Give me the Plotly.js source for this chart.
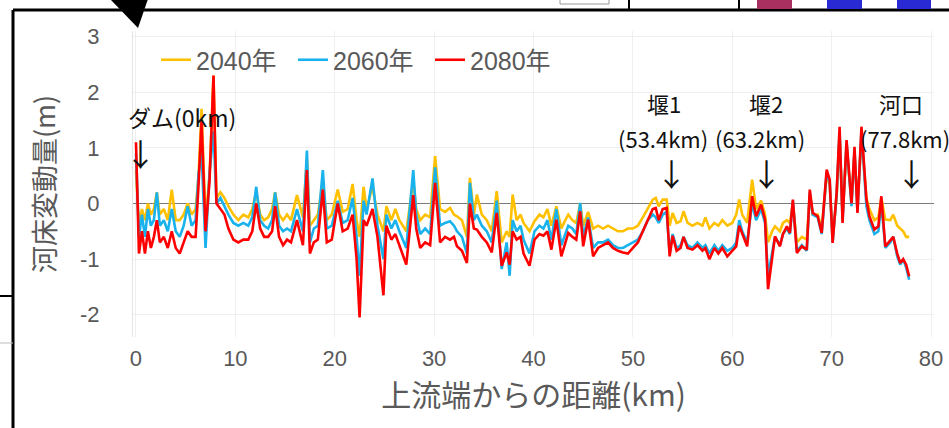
<!DOCTYPE html>
<html>
<head>
<meta charset="utf-8">
<script src="https://cdn.plot.ly/plotly-3.0.1.min.js"></script>
<style>html,body{margin:0;padding:0;background:#fff;}#chart{width:949px;height:428px;}</style>
</head>
<body>
<div id="chart"></div>
<script>
const seriesNames = ['2040年', '2060年', '2080年'];
const distanceKm = [0.0,0.3,0.6,0.9,1.2,1.5,1.8,2.1,2.4,2.8,3.2,3.6,4.0,4.4,4.8,5.2,5.6,6.0,6.3,6.6,7.0,7.4,7.8,8.1,8.5,8.9,9.3,9.8,10.3,10.8,11.3,11.7,12.1,12.5,12.9,13.3,13.7,14.0,14.4,14.8,15.2,15.6,16.2,16.8,17.2,17.5,17.9,18.3,18.8,19.2,19.7,20.3,20.8,21.3,21.8,22.2,22.5,22.9,23.2,23.8,24.3,24.9,25.2,25.7,26.1,26.5,27.2,27.9,28.2,28.6,29.1,29.6,30.1,30.6,31.1,31.6,32.0,32.3,32.8,33.3,33.6,34.0,34.3,34.8,35.3,35.8,36.3,36.8,37.3,37.6,37.9,38.3,38.7,39.0,39.6,40.1,40.6,41.0,41.4,41.8,42.3,42.8,43.2,43.5,43.9,44.3,44.7,45.0,45.5,46.0,46.5,47.0,47.5,48.0,48.5,49.0,49.5,50.0,50.5,51.0,51.5,52.0,52.3,52.6,53.0,53.4,53.7,54.0,54.4,54.8,55.1,55.5,56.0,56.5,57.0,57.3,57.7,58.2,58.6,59.0,59.5,60.0,60.4,60.7,61.0,61.5,62.0,62.4,62.9,63.3,63.6,64.0,64.3,64.8,65.1,65.5,65.8,66.1,66.5,67.0,67.5,67.8,68.1,68.6,69.0,69.5,69.8,70.1,70.5,70.8,71.1,71.5,72.0,72.3,72.6,73.0,73.5,73.8,74.3,74.7,75.0,75.4,75.9,76.2,76.6,76.9,77.2,77.5,77.8];
const y2040 = [0.6,-0.4,-0.1,-0.3,0.0,-0.2,-0.1,0.2,-0.2,-0.1,-0.3,0.25,-0.3,-0.3,-0.2,0.0,-0.2,-0.1,0.5,1.7,-0.3,0.5,2.3,0.1,0.2,0.1,-0.05,-0.2,-0.3,-0.2,-0.25,-0.1,0.2,-0.2,-0.3,-0.25,-0.1,0.2,-0.2,-0.3,-0.2,-0.3,0.15,-0.25,0.8,-0.4,-0.3,-0.2,0.4,-0.3,-0.2,0.25,-0.15,-0.1,0.35,-0.3,-0.6,0.3,-0.1,0.3,-0.2,-0.5,-0.05,-0.3,-0.1,-0.3,-0.5,0.4,-0.1,-0.3,-0.2,-0.25,0.85,-0.1,-0.15,-0.08,-0.2,-0.23,-0.3,-0.6,0.46,-0.2,0.16,-0.2,-0.3,-0.5,0.22,-0.7,-0.5,-0.6,0.16,-0.3,-0.2,-0.35,-0.5,-0.32,-0.2,-0.25,-0.1,-0.4,-0.05,-0.45,-0.3,-0.2,-0.3,-0.35,0.0,-0.4,-0.15,-0.45,-0.4,-0.45,-0.4,-0.45,-0.5,-0.5,-0.45,-0.45,-0.4,-0.25,-0.1,0.07,0.1,-0.05,0.07,0.07,-0.4,-0.17,-0.35,-0.32,-0.14,-0.35,-0.4,-0.35,-0.4,-0.25,-0.45,-0.35,-0.4,-0.3,-0.4,-0.35,-0.2,0.07,-0.2,-0.35,0.43,-0.1,0.05,-0.2,-0.7,-0.5,-0.41,-0.5,-0.35,-0.3,-0.35,0.0,-0.7,-0.6,-0.65,0.15,-0.2,-0.2,-0.45,0.5,0.35,-0.6,0.1,1.2,-0.2,1.0,0.05,0.9,-0.05,1.2,0.1,-0.1,-0.3,-0.25,0.1,-0.29,-0.3,-0.2,-0.4,-0.45,-0.5,-0.6,-0.6];
const y2060 = [0.9,-0.6,-0.2,-0.6,-0.1,-0.4,-0.3,0.2,-0.4,-0.3,-0.5,-0.1,-0.5,-0.6,-0.4,-0.05,-0.4,-0.3,0.55,0.9,-0.8,0.55,1.3,0.0,0.1,-0.05,-0.2,-0.35,-0.4,-0.35,-0.4,-0.25,0.3,-0.3,-0.4,-0.45,-0.3,0.2,-0.4,-0.5,-0.45,-0.5,-0.1,-0.5,0.95,-0.7,-0.45,-0.4,0.6,-0.45,-0.4,0.05,-0.35,-0.3,0.1,-0.6,-1.3,0.05,-0.2,0.45,-0.4,-1.0,-0.2,-0.45,-0.3,-0.5,-0.8,0.6,-0.2,-0.55,-0.45,-0.55,0.65,-0.4,-0.35,-0.32,-0.4,-0.5,-0.6,-0.9,0.37,-0.3,-0.2,-0.4,-0.5,-0.7,0.05,-1.18,-0.7,-1.3,-0.3,-0.5,-0.4,-0.65,-0.9,-0.5,-0.4,-0.45,-0.3,-0.65,-0.1,-0.75,-0.55,-0.4,-0.45,-0.55,0.01,-0.6,-0.25,-0.8,-0.7,-0.7,-0.65,-0.75,-0.8,-0.8,-0.75,-0.7,-0.65,-0.5,-0.3,-0.2,-0.25,-0.35,-0.2,-0.15,-0.9,-0.55,-0.8,-0.75,-0.6,-0.75,-0.8,-0.7,-0.8,-0.75,-0.9,-0.75,-0.85,-0.75,-0.85,-0.8,-0.7,-0.3,-0.5,-0.7,0.0,-0.3,-0.1,-0.35,-1.3,-0.9,-0.6,-0.75,-0.55,-0.45,-0.55,0.05,-0.85,-0.75,-0.85,0.2,-0.2,-0.25,-0.55,0.55,0.4,-0.7,0.15,1.3,-0.3,1.1,-0.05,0.95,-0.15,1.3,-0.05,-0.3,-0.55,-0.5,0.0,-0.8,-0.7,-0.6,-0.95,-1.1,-1.0,-1.15,-1.37];
const y2080 = [1.1,-0.9,-0.5,-0.9,-0.5,-0.8,-0.6,-0.3,-0.7,-0.6,-0.8,-0.5,-0.8,-0.9,-0.7,-0.5,-0.6,-0.6,0.35,1.5,-0.5,0.4,2.3,0.0,-0.1,-0.2,-0.45,-0.65,-0.7,-0.65,-0.65,-0.5,0.0,-0.45,-0.6,-0.6,-0.5,-0.05,-0.6,-0.75,-0.65,-0.7,-0.3,-0.75,0.6,-0.9,-0.7,-0.65,0.25,-0.7,-0.65,0.0,-0.5,-0.45,-0.2,-1.0,-2.05,-0.3,-0.4,-0.1,-0.6,-1.65,-0.4,-0.65,-0.55,-0.75,-1.1,0.15,-0.45,-0.8,-0.7,-0.75,0.37,-0.7,-0.6,-0.65,-0.6,-0.77,-0.85,-1.07,0.0,-0.45,-0.47,-0.6,-0.7,-0.88,-0.17,-1.12,-0.88,-1.1,-0.5,-0.65,-0.6,-0.9,-1.12,-0.65,-0.55,-0.58,-0.5,-0.83,-0.29,-0.95,-0.7,-0.53,-0.6,-0.65,-0.14,-0.77,-0.29,-0.95,-0.8,-0.75,-0.7,-0.8,-0.85,-0.88,-0.9,-0.8,-0.7,-0.5,-0.3,-0.1,-0.08,-0.3,-0.1,-0.08,-0.95,-0.58,-0.85,-0.8,-0.6,-0.8,-0.83,-0.75,-0.85,-0.8,-1.0,-0.8,-0.9,-0.8,-0.95,-0.85,-0.77,-0.4,-0.53,-0.77,0.13,-0.23,-0.02,-0.29,-1.54,-0.95,-0.59,-0.77,-0.55,-0.41,-0.53,0.07,-0.89,-0.77,-0.83,0.25,-0.17,-0.23,-0.53,0.61,0.43,-0.71,0.19,1.38,-0.35,1.14,0.0,1.02,-0.17,1.38,0.07,-0.23,-0.47,-0.41,0.13,-0.77,-0.65,-0.6,-0.9,-1.07,-1.0,-1.1,-1.31];
const xTickVals = [0,10,20,30,40,50,60,70,80];
const xTickText = ['0','10','20','30','40','50','60','70','80'];
const yTickVals = [-2,-1,0,1,2,3];
const yTickText = ['-2','-1','0','1','2','3'];
const markers = [
  {km: 0.0, name: 'ダム(0km)', label: ''},
  {km: 53.4, name: '堰1', label: '(53.4km)'},
  {km: 63.2, name: '堰2', label: '(63.2km)'},
  {km: 77.8, name: '河口', label: '(77.8km)'}
];
const colors = ['#FFC000', '#19B2EC', '#FF0000'];
const seriesValues = [y2040, y2060, y2080];

// pixel helpers for frame decorations (plot area: x 133..934, y 31..337)
const L = 133, R = 934, T = 31, B = 337;
const px = x => (x - L) / (R - L);
const py = y => (B - y) / (B - T);

const traces = seriesValues.map((vals, i) => ({
  type: 'scatter', mode: 'lines', name: seriesNames[i],
  x: distanceKm, y: vals,
  line: {color: colors[i], width: 2.6}
}));

const annFont = {family: 'Noto Sans CJK JP, sans-serif', size: 22, color: '#111'};
const arrowFont = {family: 'Noto Sans CJK JP, sans-serif', size: 31, color: '#111'};
const annotations = [];
annotations.push({xref: 'x', yref: 'y', x: markers[0].km, y: 1.55, xanchor: 'left', xshift: -10, text: markers[0].name, showarrow: false, font: {family: annFont.family, size: 23, color: '#111'}});
annotations.push({xref: 'x', yref: 'y', x: markers[0].km, y: 0.92, xshift: 5, text: '↓', showarrow: false, font: arrowFont});
const shiftList = [[-3, -4, 5], [2, -4, 2], [-8, -4, 2]];
markers.slice(1).forEach((m, i) => {
  const s = shiftList[i];
  annotations.push({xref: 'x', yref: 'y', x: m.km, y: 1.8, xshift: s[0], text: m.name, showarrow: false, font: annFont});
  annotations.push({xref: 'x', yref: 'y', x: m.km, y: 1.17, xshift: s[1], text: m.label, showarrow: false, font: annFont});
  annotations.push({xref: 'x', yref: 'y', x: m.km, y: 0.55, xshift: s[2], text: '↓', showarrow: false, font: arrowFont});
});

const shapes = [
  {type: 'line', xref: 'paper', yref: 'paper', x0: px(13), x1: px(949), y0: py(10), y1: py(10), line: {color: '#000', width: 3}},
  {type: 'line', xref: 'paper', yref: 'paper', x0: px(13), x1: px(13), y0: py(10), y1: py(430), line: {color: '#000', width: 3}},
  {type: 'line', xref: 'paper', yref: 'paper', x0: px(0), x1: px(13), y0: py(296), y1: py(296), line: {color: '#000', width: 2}},
  {type: 'line', xref: 'paper', yref: 'paper', x0: px(0), x1: px(13), y0: py(343), y1: py(343), line: {color: '#bbb', width: 1}},
  {type: 'line', xref: 'paper', yref: 'paper', x0: px(629), x1: px(629), y0: py(0), y1: py(10), line: {color: '#000', width: 2}},
  {type: 'line', xref: 'paper', yref: 'paper', x0: px(739), x1: px(739), y0: py(0), y1: py(10), line: {color: '#000', width: 2}},
  {type: 'rect', xref: 'paper', yref: 'paper', x0: px(560), x1: px(609), y0: py(-2), y1: py(4), line: {color: '#999', width: 1}},
  {type: 'rect', xref: 'paper', yref: 'paper', x0: px(757), x1: px(792), y0: py(0), y1: py(9), line: {width: 0}, fillcolor: '#A83060'},
  {type: 'rect', xref: 'paper', yref: 'paper', x0: px(827), x1: px(862), y0: py(0), y1: py(9), line: {width: 0}, fillcolor: '#2A2AD4'},
  {type: 'rect', xref: 'paper', yref: 'paper', x0: px(897), x1: px(931), y0: py(0), y1: py(9), line: {width: 0}, fillcolor: '#2A2AD4'},
  {type: 'path', xref: 'paper', yref: 'paper', path: `M ${px(110)} ${py(-1)} L ${px(148)} ${py(-1)} L ${px(138)} ${py(28)} Z`, fillcolor: '#000', line: {width: 0}}
];

const layout = {
  width: 949, height: 428,
  margin: {l: L, r: 949 - R, t: T, b: 428 - B},
  paper_bgcolor: '#fff', plot_bgcolor: '#fff',
  font: {family: 'Noto Sans CJK JP, sans-serif', color: '#595959'},
  showlegend: true,
  legend: {orientation: 'h', x: px(156), y: py(37), xanchor: 'left', yanchor: 'top',
    font: {family: 'Liberation Sans, Noto Sans CJK JP, sans-serif', size: 25, color: '#595959'},
    bgcolor: 'rgba(0,0,0,0)', itemwidth: 30, entrywidth: 92, entrywidthmode: 'pixels', traceorder: 'normal'},
  xaxis: {range: [-0.3, 80.3], tickvals: xTickVals, ticktext: xTickText, showgrid: true, gridcolor: '#efefef', gridwidth: 1,
    zeroline: false, showline: false, ticks: '', ticklabelstandoff: 6,
    tickfont: {family: 'Liberation Sans, sans-serif', size: 22, color: '#595959'},
    title: {text: '上流端からの距離(km)', font: {family: 'Noto Sans CJK JP, sans-serif', size: 30, color: '#595959'}, standoff: 5}},
  yaxis: {range: [-2.4, 3.1], tickvals: yTickVals, ticktext: yTickText, showgrid: true, gridcolor: '#efefef', gridwidth: 1,
    zeroline: true, zerolinecolor: '#7a7a7a', zerolinewidth: 1, showline: true, linecolor: '#e4e4e4', ticks: '', ticklabelstandoff: 28,
    tickfont: {family: 'Liberation Sans, sans-serif', size: 22, color: '#595959'},
    title: {text: '河床変動量(m)', font: {family: 'Noto Sans CJK JP, sans-serif', size: 27, color: '#595959'}, standoff: 16}},
  annotations: annotations,
  shapes: shapes
};

Plotly.newPlot('chart', traces, layout, {staticPlot: true, displayModeBar: false});
</script>
</body>
</html>
